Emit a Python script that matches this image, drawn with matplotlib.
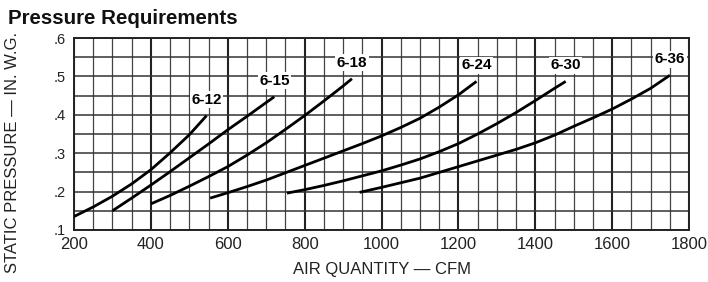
import matplotlib.pyplot as plt
import numpy as np

plt.rcParams['font.family'] = ['Liberation Sans', 'DejaVu Sans']

# Fan models and their curves
models = ['6-12', '6-15', '6-18', '6-24', '6-30', '6-36']

cfm_612 = [200, 250, 300, 350, 400, 450, 500, 545]
sp_612 = [0.135, 0.160, 0.188, 0.220, 0.257, 0.301, 0.348, 0.398]

cfm_615 = [300, 350, 400, 450, 500, 550, 600, 650, 700, 721]
sp_615 = [0.150, 0.183, 0.217, 0.252, 0.288, 0.324, 0.361, 0.396, 0.432, 0.447]

cfm_618 = [400, 450, 500, 550, 600, 650, 700, 750, 800, 850, 900, 923]
sp_618 = [0.168, 0.190, 0.214, 0.239, 0.265, 0.295, 0.327, 0.362, 0.398, 0.436, 0.475, 0.494]

cfm_624 = [554, 600, 650, 700, 750, 800, 850, 900, 950, 1000, 1050, 1100, 1150, 1200, 1247]
sp_624 = [0.183, 0.197, 0.213, 0.230, 0.249, 0.268, 0.287, 0.306, 0.325, 0.345,
          0.367, 0.391, 0.420, 0.452, 0.487]

cfm_630 = [754, 800, 850, 900, 950, 1000, 1050, 1100, 1150, 1200, 1250, 1300, 1350, 1400, 1450, 1479]
sp_630 = [0.196, 0.205, 0.216, 0.228, 0.241, 0.254, 0.269, 0.285, 0.304, 0.325,
          0.350, 0.377, 0.406, 0.437, 0.469, 0.487]

cfm_636 = [943, 1000, 1050, 1100, 1150, 1200, 1250, 1300, 1350, 1400, 1450, 1500,
           1550, 1600, 1650, 1700, 1750]
sp_636 = [0.198, 0.211, 0.223, 0.235, 0.250, 0.265, 0.280, 0.295, 0.310, 0.327,
          0.347, 0.370, 0.392, 0.415, 0.441, 0.469, 0.503]

curves = [(cfm_612, sp_612), (cfm_615, sp_615), (cfm_618, sp_618),
          (cfm_624, sp_624), (cfm_630, sp_630), (cfm_636, sp_636)]

x_ticks = [200, 400, 600, 800, 1000, 1200, 1400, 1600, 1800]
y_ticks = [0.1, 0.2, 0.3, 0.4, 0.5, 0.6]
y_ticklabels = ['.1', '.2', '.3', '.4', '.5', '.6']

fig = plt.figure(figsize=(7.08, 2.82), dpi=100)
ax = fig.add_axes([0.1045, 0.1844, 0.8688, 0.6808])
ax.set_xlim(200, 1800)
ax.set_ylim(0.1, 0.6)

# grid
ax.set_xticks(x_ticks)
ax.set_xticks(np.arange(200, 1801, 50), minor=True)
ax.set_yticks(y_ticks)
ax.set_yticks(np.arange(0.1, 0.601, 0.05), minor=True)
ax.grid(which='major', axis='x', color='#222222', lw=1.5)
ax.grid(which='minor', axis='x', color='#444444', lw=0.9)
ax.grid(which='both', axis='y', color='#333333', lw=1.1)
ax.set_axisbelow(True)
for s in ax.spines.values():
    s.set_color('#222222')
    s.set_linewidth(1.4)

ax.tick_params(which='both', length=0)
ax.tick_params(axis='x', pad=5, labelsize=12, labelcolor='#222222')
ax.tick_params(axis='y', pad=6, labelsize=10.5, labelcolor='#222222')
ax.set_yticklabels(y_ticklabels)

for name, (xs, ys) in zip(models, curves):
    ax.plot(xs, ys, color='black', lw=2.0, solid_capstyle='butt',
            solid_joinstyle='round', zorder=3)
    ax.annotate(name, xy=(xs[-1], ys[-1]), xytext=(0, 9), textcoords='offset pixels',
                ha='center', va='bottom', fontsize=11, fontweight='bold', zorder=4,
                bbox=dict(boxstyle='square,pad=0.1', fc='white', ec='none'))

ax.set_xlabel('AIR QUANTITY — CFM', fontsize=12, color='#222222', labelpad=7)
fig.text(0.018, 0.46, 'STATIC PRESSURE — IN. W.G.', rotation=90, ha='center', va='center',
         fontsize=12, color='#222222')
fig.text(0.012, 0.935, 'Pressure Requirements', fontsize=14.8, fontweight='bold',
         ha='left', va='center', color='#111111')

fig.savefig('out.png', dpi=100, facecolor='white')
